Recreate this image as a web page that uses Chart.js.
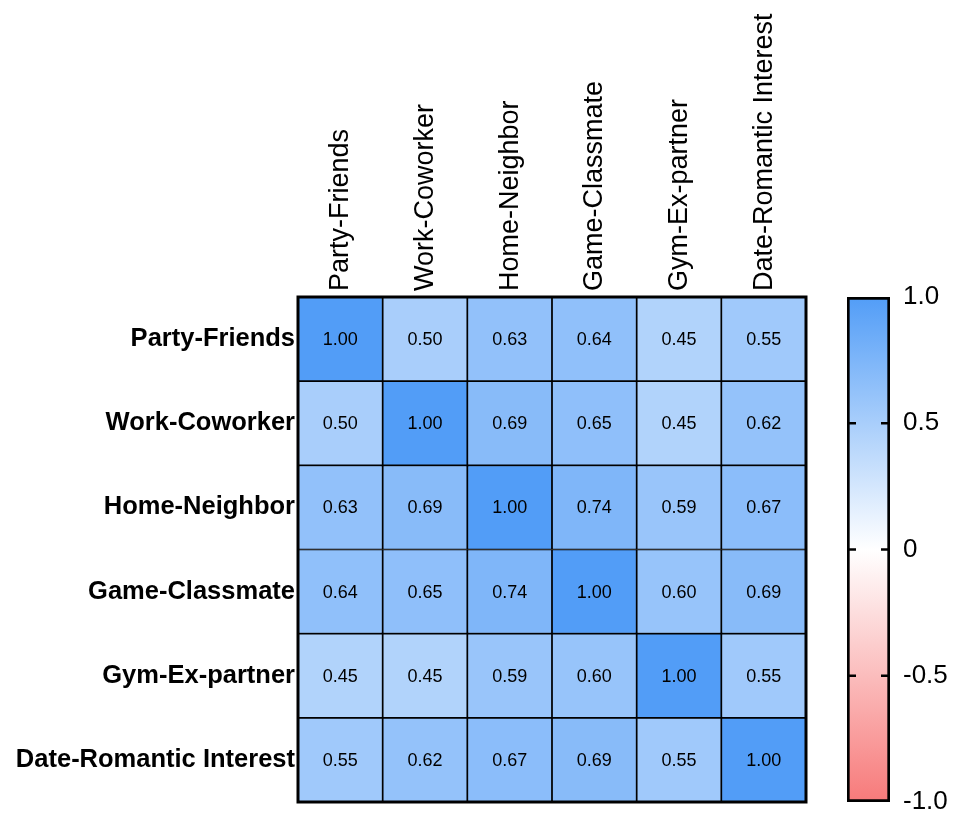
<!DOCTYPE html>
<html lang="en">
<head>
    <meta charset="UTF-8">
    <title>Correlation matrix</title>
    <style>
        body {
            margin: 0;
            background: #ffffff;
        }
        #wrap {
            position: relative;
            width: 955px;
            height: 813px;
        }
        #heatCanvas {
            position: absolute;
            left: 0;
            top: 0;
        }
        #barCanvas {
            position: absolute;
            left: 830px;
            top: 0;
        }
    </style>
    <script src="https://cdn.jsdelivr.net/npm/chart.js"></script>
</head>
<body>
    <div id="wrap">
        <canvas id="heatCanvas" width="830" height="813"></canvas>
        <canvas id="barCanvas" width="125" height="813"></canvas>
    </div>

    <script>
        // categories (same order for rows and columns)
        const rowLabels = ['Party-Friends', 'Work-Coworker', 'Home-Neighbor', 'Game-Classmate', 'Gym-Ex-partner', 'Date-Romantic Interest'];
        const colLabels = ['Party-Friends', 'Work-Coworker', 'Home-Neighbor', 'Game-Classmate', 'Gym-Ex-partner', 'Date-Romantic Interest'];

        // correlation values, one array per row
        const partyFriends = [1.00, 0.50, 0.63, 0.64, 0.45, 0.55];
        const workCoworker = [0.50, 1.00, 0.69, 0.65, 0.45, 0.62];
        const homeNeighbor = [0.63, 0.69, 1.00, 0.74, 0.59, 0.67];
        const gameClassmate = [0.64, 0.65, 0.74, 1.00, 0.60, 0.69];
        const gymExPartner = [0.45, 0.45, 0.59, 0.60, 1.00, 0.55];
        const dateRomantic = [0.55, 0.62, 0.67, 0.69, 0.55, 1.00];
        const matrix = [partyFriends, workCoworker, homeNeighbor, gameClassmate, gymExPartner, dateRomantic];

        // colour scale ticks
        const scaleTicks = [-1, -0.5, 0, 0.5, 1];
        const scaleTickLabels = ['-1.0', '-0.5', '0', '0.5', '1.0'];
        const scaleMarks = [-0.5, 0, 0.5];

        const BLUE = [82, 157, 247];
        const RED = [247, 122, 122];
        const FONT = "'Liberation Sans', Arial, sans-serif";

        function colorFor(v) {
            const end = v >= 0 ? BLUE : RED;
            const t = Math.min(1, Math.abs(v));
            const c = end.map(e => Math.round(255 + (e - 255) * t));
            return `rgb(${c[0]}, ${c[1]}, ${c[2]})`;
        }

        // no extra room for the first/last tick label
        function noEdgePadding(scale) {
            scale.paddingTop = 0;
            scale.paddingBottom = 0;
            scale.paddingLeft = 0;
            scale.paddingRight = 0;
        }

        // numbers in the middle of every cell
        const cellText = {
            id: 'cellText',
            afterDatasetsDraw(chart) {
                const ctx = chart.ctx;
                ctx.save();
                ctx.font = `18px ${FONT}`;
                ctx.fillStyle = '#000';
                ctx.textAlign = 'center';
                ctx.textBaseline = 'middle';
                chart.data.datasets.forEach((ds, i) => {
                    chart.getDatasetMeta(i).data.forEach((el, j) => {
                        ctx.fillText(matrix[i][j].toFixed(2), el.x, (el.y + el.base) / 2 + 1);
                    });
                });
                ctx.restore();
            }
        };

        // heavy frame round the plot area
        const frame = {
            id: 'frame',
            afterDatasetsDraw(chart) {
                const a = chart.chartArea;
                const ctx = chart.ctx;
                ctx.save();
                ctx.lineWidth = 3;
                ctx.strokeStyle = '#000';
                ctx.strokeRect(a.left, a.top, a.right - a.left, a.bottom - a.top);
                ctx.restore();
            }
        };

        new Chart(document.getElementById('heatCanvas'), {
            type: 'bar',
            data: {
                labels: colLabels,
                datasets: matrix.map((row, i) => ({
                    data: row.map(() => [i, i + 1]),
                    backgroundColor: row.map(v => colorFor(v)),
                    borderColor: '#000',
                    borderWidth: 1.2,
                    borderSkipped: false,
                    barPercentage: 1,
                    categoryPercentage: 1,
                    grouped: false
                }))
            },
            plugins: [cellText, frame],
            options: {
                responsive: false,
                animation: false,
                layout: { padding: { left: 0, top: 0, right: 24, bottom: 11 } },
                plugins: {
                    legend: { display: false },
                    tooltip: { enabled: false }
                },
                scales: {
                    x: {
                        position: 'top',
                        grid: { display: false, drawTicks: false },
                        border: { display: false },
                        ticks: {
                            color: '#000',
                            font: { family: FONT, size: 27 },
                            minRotation: 90,
                            maxRotation: 90,
                            autoSkip: false,
                            padding: 6,
                            labelOffset: 33
                        },
                        afterFit(scale) {
                            noEdgePadding(scale);
                            scale.height = 297;
                        }
                    },
                    y: {
                        min: 0,
                        max: 6,
                        reverse: true,
                        grid: { display: false, drawTicks: false },
                        border: { display: false },
                        afterBuildTicks(scale) {
                            scale.ticks = rowLabels.map((_, i) => ({ value: i + 0.5 }));
                        },
                        ticks: {
                            color: '#000',
                            font: { family: FONT, size: 25.5, weight: 'bold' },
                            padding: 3,
                            callback: v => rowLabels[Math.floor(v)]
                        },
                        afterFit(scale) {
                            noEdgePadding(scale);
                            scale.width = 298;
                        }
                    }
                }
            }
        });

        // short marks on both inner edges of the colour bar
        const scaleMarksPlugin = {
            id: 'scaleMarks',
            afterDatasetsDraw(chart) {
                const a = chart.chartArea;
                const y = chart.scales.y;
                const ctx = chart.ctx;
                ctx.save();
                ctx.lineWidth = 2.5;
                ctx.strokeStyle = '#000';
                scaleMarks.forEach(v => {
                    const py = y.getPixelForValue(v);
                    ctx.beginPath();
                    ctx.moveTo(a.left, py);
                    ctx.lineTo(a.left + 9, py);
                    ctx.moveTo(a.right - 9, py);
                    ctx.lineTo(a.right, py);
                    ctx.stroke();
                });
                ctx.restore();
            }
        };

        new Chart(document.getElementById('barCanvas'), {
            type: 'bar',
            data: {
                labels: [''],
                datasets: [{
                    data: [[-1, 1]],
                    backgroundColor(context) {
                        const chart = context.chart;
                        const a = chart.chartArea;
                        if (!a) return null;
                        const y = chart.scales.y;
                        const g = chart.ctx.createLinearGradient(0, y.getPixelForValue(-1), 0, y.getPixelForValue(1));
                        g.addColorStop(0, colorFor(-1));
                        g.addColorStop(0.5, colorFor(0));
                        g.addColorStop(1, colorFor(1));
                        return g;
                    },
                    borderColor: '#000',
                    borderWidth: 3,
                    borderSkipped: false,
                    barPercentage: 1,
                    categoryPercentage: 1
                }]
            },
            plugins: [scaleMarksPlugin],
            options: {
                responsive: false,
                animation: false,
                layout: { padding: { left: 17, top: 297, right: 0, bottom: 11 } },
                plugins: {
                    legend: { display: false },
                    tooltip: { enabled: false }
                },
                scales: {
                    x: { display: false },
                    y: {
                        position: 'right',
                        min: -1,
                        max: 1,
                        grid: { display: false, drawTicks: false },
                        border: { display: false },
                        afterBuildTicks(scale) {
                            scale.ticks = scaleTicks.map(v => ({ value: v }));
                        },
                        ticks: {
                            color: '#000',
                            font: { family: FONT, size: 26 },
                            padding: 13,
                            callback: v => scaleTickLabels[scaleTicks.indexOf(v)]
                        },
                        afterFit(scale) {
                            noEdgePadding(scale);
                            scale.width = 65;
                        }
                    }
                }
            }
        });
    </script>
</body>
</html>
